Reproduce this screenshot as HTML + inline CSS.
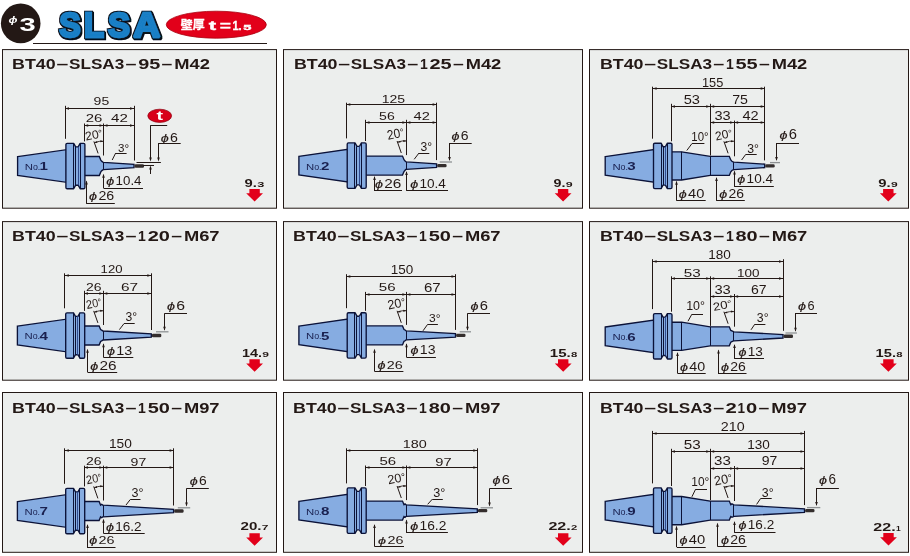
<!DOCTYPE html>
<html lang="ja"><head><meta charset="utf-8"><title>SLSA</title>
<style>html,body{margin:0;padding:0;background:#fff}body{width:910px;height:556px;overflow:hidden}svg{display:block;will-change:transform}</style>
</head><body>
<svg width="910" height="556" viewBox="0 0 910 556">
<rect width="910" height="556" fill="#fff"/>
<circle cx="20.7" cy="23.4" r="19.8" fill="#231815"/>
<text x="8.6" y="22.9" font-family='"Liberation Sans", sans-serif' font-size="9" font-weight="700" fill="#fff" font-style="italic" textLength="9" lengthAdjust="spacingAndGlyphs">ϕ</text>
<text x="19.6" y="31.3" font-family='"Liberation Sans", sans-serif' font-size="18.4" font-weight="700" fill="#fff" textLength="16.2" lengthAdjust="spacingAndGlyphs">3</text>
<defs><filter id="ol" x="-5%" y="-10%" width="110%" height="125%"><feMorphology in="SourceAlpha" operator="dilate" radius="0.8" result="d"/><feFlood flood-color="#10131f"/><feComposite in2="d" operator="in" result="o"/><feOffset in="o" dx="1.1" dy="1.1" result="sh"/><feMerge><feMergeNode in="sh"/><feMergeNode in="o"/><feMergeNode in="SourceGraphic"/></feMerge></filter></defs>
<text y="36.5" font-family='"Liberation Sans", sans-serif' font-weight="700" font-size="35.2" stroke-linejoin="miter" stroke-miterlimit="1.5" fill="#1a7fc6" stroke="#1a7fc6" stroke-width="2.4" filter="url(#ol)"><tspan x="59.3" textLength="21.4" lengthAdjust="spacingAndGlyphs">S</tspan><tspan x="84.1" textLength="20" lengthAdjust="spacingAndGlyphs">L</tspan><tspan x="108" textLength="22" lengthAdjust="spacingAndGlyphs">S</tspan><tspan x="133.2" textLength="27" lengthAdjust="spacingAndGlyphs">A</tspan></text>
<ellipse cx="216.3" cy="24.7" rx="50" ry="13.5" fill="#e2001a" stroke="#a8000f" stroke-width="0.8"/>
<text y="29.9" font-family='"Liberation Sans", "Noto Sans CJK JP", sans-serif' font-weight="700" font-size="13.2" fill="#fff" stroke="#fff" stroke-width="0.35"><tspan x="180.8" y="29.2" font-size="10.9" textLength="23.8" lengthAdjust="spacingAndGlyphs">壁厚</tspan><tspan x="208.8" y="29.9" textLength="7.4" lengthAdjust="spacingAndGlyphs">t</tspan><tspan x="219.8" textLength="11.2" lengthAdjust="spacingAndGlyphs">=</tspan><tspan x="232.4" textLength="9.2" lengthAdjust="spacingAndGlyphs">1.</tspan><tspan x="243.3" font-size="7.8" textLength="8.2" lengthAdjust="spacingAndGlyphs">5</tspan></text>
<line x1="33" y1="43.5" x2="267" y2="43.5" stroke="#231815" stroke-width="1.0"/>
<g id="p1">
<rect x="2.5" y="49.6" width="274" height="158.6" fill="#eceeed" stroke="#231815" stroke-width="1"/>
<text y="68.8" font-family='"Liberation Sans", sans-serif' font-size="14" font-weight="700" fill="#231815"><tspan x="12.1" textLength="43.6" lengthAdjust="spacingAndGlyphs">BT40</tspan><tspan x="56.4" textLength="11.8" lengthAdjust="spacingAndGlyphs">–</tspan><tspan x="69" textLength="55.3" lengthAdjust="spacingAndGlyphs">SLSA3</tspan><tspan x="125.4" textLength="11" lengthAdjust="spacingAndGlyphs">–</tspan><tspan x="138.2" textLength="22.1" lengthAdjust="spacingAndGlyphs">95</tspan><tspan x="161.6" textLength="10.8" lengthAdjust="spacingAndGlyphs">–</tspan><tspan x="174.3" textLength="35.6" lengthAdjust="spacingAndGlyphs">M42</tspan></text>
<polygon points="83,156.5 99.3,156.5 100.8,160.1 101.9,161.4 102.9,162.15 103.5,162.3 134,164.3 134,167.7 103.5,169.7 102.9,169.85 101.9,170.6 100.8,171.9 99.3,175.5 83,175.5" fill="#86ace1" stroke="#0b1238" stroke-width="1.35" stroke-linejoin="miter"/>
<line x1="103.5" y1="162.3" x2="103.5" y2="169.7" stroke="#0b1238" stroke-width="1.0"/>
<rect x="134.6" y="164.3" width="9.4" height="3.4" rx="1.3" fill="#332d2c"/>
<polygon points="17.6,156.7 66.5,149.7 66.5,182.3 17.6,175.3" fill="#86ace1" stroke="#0b1238" stroke-width="1.35" stroke-linejoin="miter"/>
<path d="M65.9,144.6 Q65.9,143.3 67.2,143.3 L73.69,143.3 L75.69,146.8 L78.16,146.8 L80.15,143.3 L83.6,143.3 Q84.9,143.3 84.9,144.6 L84.9,187.4 Q84.9,188.7 83.6,188.7 L80.15,188.7 L78.16,185.2 L75.69,185.2 L73.69,188.7 L67.2,188.7 Q65.9,188.7 65.9,187.4 Z" fill="#86ace1" stroke="#0b1238" stroke-width="1.35" stroke-linejoin="round"/>
<line x1="73.5" y1="143.3" x2="73.5" y2="188.7" stroke="#0b1238" stroke-width="1.0"/>
<line x1="75.5" y1="146.8" x2="75.5" y2="185.2" stroke="#0b1238" stroke-width="1.0"/>
<line x1="78.5" y1="146.8" x2="78.5" y2="185.2" stroke="#2f4a90" stroke-width="1.0"/>
<line x1="80.5" y1="143.3" x2="80.5" y2="188.7" stroke="#0b1238" stroke-width="1.0"/>
<text x="24.8" y="169.9" font-family='"Liberation Sans", sans-serif' fill="#1a2150" font-size="8.8" textLength="8.2" lengthAdjust="spacingAndGlyphs">N</text>
<text x="32.9" y="169.9" font-family='"Liberation Sans", sans-serif' fill="#1a2150" font-size="8.4" textLength="7.4" lengthAdjust="spacingAndGlyphs">o.</text>
<text x="39.6" y="170.2" font-family='"Liberation Sans", sans-serif' font-size="11.6" font-weight="700" fill="#1a2150" textLength="8.4" lengthAdjust="spacingAndGlyphs">1</text>
<line x1="65.5" y1="105.8" x2="65.5" y2="138.8" stroke="#231815" stroke-width="1.0"/>
<line x1="134.5" y1="105.8" x2="134.5" y2="160.5" stroke="#231815" stroke-width="1.0"/>
<line x1="65" y1="108.5" x2="134" y2="108.5" stroke="#231815" stroke-width="1.0"/>
<polygon points="65,108.5 69,107.2 69,109.8" fill="#231815"/>
<polygon points="134,108.5 130,107.2 130,109.8" fill="#231815"/>
<text x="93.6" y="104.75" font-family='"Liberation Sans", sans-serif' font-size="11.8" font-weight="400" fill="#231815" textLength="15.6" lengthAdjust="spacingAndGlyphs">95</text>
<line x1="84.5" y1="123.5" x2="84.5" y2="141.4" stroke="#231815" stroke-width="1.0"/>
<line x1="103.5" y1="123.5" x2="103.5" y2="155.5" stroke="#231815" stroke-width="1.0"/>
<line x1="84.2" y1="125.5" x2="134" y2="125.5" stroke="#231815" stroke-width="1.0"/>
<polygon points="84.2,125.5 88.2,124.2 88.2,126.8" fill="#231815"/>
<polygon points="103.5,125.5 99.5,124.2 99.5,126.8" fill="#231815"/>
<polygon points="103.5,125.5 107.5,124.2 107.5,126.8" fill="#231815"/>
<polygon points="134,125.5 130,124.2 130,126.8" fill="#231815"/>
<text x="85.8" y="122.45" font-family='"Liberation Sans", sans-serif' font-size="11.8" font-weight="400" fill="#231815" textLength="16.6" lengthAdjust="spacingAndGlyphs">26</text>
<text x="111" y="122.45" font-family='"Liberation Sans", sans-serif' font-size="11.8" font-weight="400" fill="#231815" textLength="16.8" lengthAdjust="spacingAndGlyphs">42</text>
<text transform="translate(86,140.5) rotate(-11)" font-family='"Liberation Sans", sans-serif' font-size="12.01" fill="#231815" textLength="17.5" lengthAdjust="spacingAndGlyphs">20<tspan font-size="9.61" dy="-1.2">°</tspan></text>
<line x1="98.1" y1="153.4" x2="93.9" y2="141.4" stroke="#231815" stroke-width="1.0"/>
<path d="M94.5,142.6 Q99.4,140.8 103.5,141.3" fill="none" stroke="#231815" stroke-width="0.85"/>
<polygon points="94.1,142.7 97.1,141.1 97.3,143" fill="#231815"/>
<polygon points="103.5,141.3 100.3,140.3 100.4,142.3" fill="#231815"/>
<text x="118.1" y="151.55" font-family='"Liberation Sans", sans-serif' font-size="11.8" font-weight="400" fill="#231815" textLength="11.1" lengthAdjust="spacingAndGlyphs">3°</text>
<line x1="115.7" y1="153.5" x2="126.6" y2="153.5" stroke="#231815" stroke-width="1.0"/>
<line x1="115.7" y1="153" x2="112.2" y2="160" stroke="#231815" stroke-width="1.0"/>
<text x="106.3" y="185.15" font-family='"Liberation Sans", sans-serif' font-size="12.36" fill="#231815"><tspan font-style="italic" font-size="10.63" textLength="8" lengthAdjust="spacingAndGlyphs" stroke="#231815" stroke-width="0.15">ϕ</tspan><tspan dx="1.3" textLength="25.9" lengthAdjust="spacingAndGlyphs">10.4</tspan></text>
<line x1="103.5" y1="188.5" x2="143" y2="188.5" stroke="#231815" stroke-width="1.0"/>
<line x1="103.5" y1="188" x2="103.5" y2="174.8" stroke="#231815" stroke-width="1.0"/>
<polygon points="103.5,173.8 102.2,177.8 104.8,177.8" fill="#231815"/>
<text x="89.1" y="199.65" font-family='"Liberation Sans", sans-serif' font-size="11.94" fill="#231815"><tspan font-style="italic" font-size="10.27" textLength="8" lengthAdjust="spacingAndGlyphs" stroke="#231815" stroke-width="0.15">ϕ</tspan><tspan dx="1.3" textLength="15.8" lengthAdjust="spacingAndGlyphs">26</tspan></text>
<line x1="86.2" y1="203.5" x2="114.8" y2="203.5" stroke="#231815" stroke-width="1.0"/>
<line x1="86.5" y1="203.5" x2="86.5" y2="181.5" stroke="#231815" stroke-width="1.0"/>
<polygon points="86.5,180.5 85.2,184.5 87.8,184.5" fill="#231815"/>
<ellipse cx="159.7" cy="115.8" rx="11.9" ry="6.6" fill="#d8001a" stroke="#8c0010" stroke-width="0.7"/>
<text x="156.6" y="120.2" font-family='"Liberation Sans", sans-serif' font-size="12.6" font-weight="700" fill="#fff" textLength="6.6" lengthAdjust="spacingAndGlyphs">t</text>
<line x1="150.4" y1="125.5" x2="167.2" y2="125.5" stroke="#231815" stroke-width="1.0"/>
<line x1="150.5" y1="125.3" x2="150.5" y2="159" stroke="#231815" stroke-width="1.0"/>
<polygon points="150.5,161.6 149.2,157.6 151.8,157.6" fill="#231815"/>
<text x="160.8" y="141.65" font-family='"Liberation Sans", sans-serif' font-size="13.34" fill="#231815"><tspan font-style="italic" font-size="11.47" textLength="8" lengthAdjust="spacingAndGlyphs" stroke="#231815" stroke-width="0.15">ϕ</tspan><tspan dx="1.3" textLength="7.9" lengthAdjust="spacingAndGlyphs">6</tspan></text>
<line x1="158.3" y1="143.5" x2="180.7" y2="143.5" stroke="#231815" stroke-width="1.0"/>
<line x1="158.5" y1="143.1" x2="158.5" y2="159" stroke="#231815" stroke-width="1.0"/>
<polygon points="158.5,161.6 157.2,157.6 159.8,157.6" fill="#231815"/>
<line x1="136.5" y1="162.5" x2="160.9" y2="162.5" stroke="#231815" stroke-width="1.0"/>
<line x1="143" y1="165.5" x2="154" y2="165.5" stroke="#231815" stroke-width="1.0"/>
<line x1="150.5" y1="174" x2="150.5" y2="168" stroke="#231815" stroke-width="1.0"/>
<polygon points="150.5,165.5 149.2,169.5 151.8,169.5" fill="#231815"/>
<text x="244.6" y="186.9" font-family='"Liberation Sans", sans-serif' font-size="11.8" font-weight="700" fill="#231815" textLength="12.3" lengthAdjust="spacingAndGlyphs">9.</text>
<text x="257.2" y="186.9" font-family='"Liberation Sans", sans-serif' font-size="7.6" font-weight="700" fill="#231815" textLength="7.1" lengthAdjust="spacingAndGlyphs">3</text>
<polygon points="249.4,189.1 259.8,189.1 259.8,193.2 263,193.2 254.6,201.6 246.2,193.2 249.4,193.2" fill="#e2001a"/>
</g>
<g id="p2">
<rect x="283.5" y="49.6" width="299" height="158.6" fill="#eceeed" stroke="#231815" stroke-width="1"/>
<text y="69" font-family='"Liberation Sans", sans-serif' font-size="14" font-weight="700" fill="#231815"><tspan x="293.9" textLength="43.6" lengthAdjust="spacingAndGlyphs">BT40</tspan><tspan x="338.2" textLength="11.8" lengthAdjust="spacingAndGlyphs">–</tspan><tspan x="350.8" textLength="55.3" lengthAdjust="spacingAndGlyphs">SLSA3</tspan><tspan x="407.2" textLength="11" lengthAdjust="spacingAndGlyphs">–</tspan><tspan x="419.9" textLength="7.8" lengthAdjust="spacingAndGlyphs">1</tspan><tspan x="429.5" textLength="22.2" lengthAdjust="spacingAndGlyphs">25</tspan><tspan x="453" textLength="10.8" lengthAdjust="spacingAndGlyphs">–</tspan><tspan x="465.7" textLength="35.6" lengthAdjust="spacingAndGlyphs">M42</tspan></text>
<polygon points="364.3,156.1 402.5,156.1 404,159.7 405.1,161 405.8,161.75 406.4,161.9 436.6,163.9 436.6,167.3 406.4,169.3 405.8,169.45 405.1,170.2 404,171.5 402.5,175.1 364.3,175.1" fill="#86ace1" stroke="#0b1238" stroke-width="1.35" stroke-linejoin="miter"/>
<line x1="406.5" y1="161.9" x2="406.5" y2="169.3" stroke="#0b1238" stroke-width="1.0"/>
<rect x="437.2" y="163.9" width="9.4" height="3.4" rx="1.3" fill="#332d2c"/>
<polygon points="298.9,156.3 347.8,149.3 347.8,181.9 298.9,174.9" fill="#86ace1" stroke="#0b1238" stroke-width="1.35" stroke-linejoin="miter"/>
<path d="M347.2,144.2 Q347.2,142.9 348.5,142.9 L354.99,142.9 L356.99,146.4 L359.46,146.4 L361.45,142.9 L364.9,142.9 Q366.2,142.9 366.2,144.2 L366.2,187 Q366.2,188.3 364.9,188.3 L361.45,188.3 L359.46,184.8 L356.99,184.8 L354.99,188.3 L348.5,188.3 Q347.2,188.3 347.2,187 Z" fill="#86ace1" stroke="#0b1238" stroke-width="1.35" stroke-linejoin="round"/>
<line x1="354.5" y1="142.9" x2="354.5" y2="188.3" stroke="#0b1238" stroke-width="1.0"/>
<line x1="356.5" y1="146.4" x2="356.5" y2="184.8" stroke="#0b1238" stroke-width="1.0"/>
<line x1="359.5" y1="146.4" x2="359.5" y2="184.8" stroke="#2f4a90" stroke-width="1.0"/>
<line x1="361.5" y1="142.9" x2="361.5" y2="188.3" stroke="#0b1238" stroke-width="1.0"/>
<text x="306.1" y="169.5" font-family='"Liberation Sans", sans-serif' fill="#1a2150" font-size="8.8" textLength="8.2" lengthAdjust="spacingAndGlyphs">N</text>
<text x="314.2" y="169.5" font-family='"Liberation Sans", sans-serif' fill="#1a2150" font-size="8.4" textLength="7.4" lengthAdjust="spacingAndGlyphs">o.</text>
<text x="320.9" y="169.8" font-family='"Liberation Sans", sans-serif' font-size="11.6" font-weight="700" fill="#1a2150" textLength="8.4" lengthAdjust="spacingAndGlyphs">2</text>
<line x1="346.5" y1="102.7" x2="346.5" y2="138.4" stroke="#231815" stroke-width="1.0"/>
<line x1="436.5" y1="102.7" x2="436.5" y2="160.1" stroke="#231815" stroke-width="1.0"/>
<line x1="346.3" y1="104.5" x2="436.6" y2="104.5" stroke="#231815" stroke-width="1.0"/>
<polygon points="346.3,104.5 350.3,103.2 350.3,105.8" fill="#231815"/>
<polygon points="436.6,104.5 432.6,103.2 432.6,105.8" fill="#231815"/>
<text x="381.7" y="102.55" font-family='"Liberation Sans", sans-serif' font-size="11.52" font-weight="400" fill="#231815" textLength="23.4" lengthAdjust="spacingAndGlyphs">125</text>
<line x1="365.5" y1="119.8" x2="365.5" y2="141" stroke="#231815" stroke-width="1.0"/>
<line x1="406.5" y1="119.8" x2="406.5" y2="155.1" stroke="#231815" stroke-width="1.0"/>
<line x1="365.5" y1="122.5" x2="436.6" y2="122.5" stroke="#231815" stroke-width="1.0"/>
<polygon points="365.5,122.5 369.5,121.2 369.5,123.8" fill="#231815"/>
<polygon points="406.4,122.5 402.4,121.2 402.4,123.8" fill="#231815"/>
<polygon points="406.4,122.5 410.4,121.2 410.4,123.8" fill="#231815"/>
<polygon points="436.6,122.5 432.6,121.2 432.6,123.8" fill="#231815"/>
<text x="379.1" y="119.55" font-family='"Liberation Sans", sans-serif' font-size="11.38" font-weight="400" fill="#231815" textLength="15.6" lengthAdjust="spacingAndGlyphs">56</text>
<text x="413.6" y="119.55" font-family='"Liberation Sans", sans-serif' font-size="11.38" font-weight="400" fill="#231815" textLength="16.3" lengthAdjust="spacingAndGlyphs">42</text>
<text transform="translate(388,139.7) rotate(-11)" font-family='"Liberation Sans", sans-serif' font-size="13.13" fill="#231815" textLength="17" lengthAdjust="spacingAndGlyphs">20<tspan font-size="10.5" dy="-1.2">°</tspan></text>
<line x1="401.3" y1="153" x2="397.1" y2="141" stroke="#231815" stroke-width="1.0"/>
<path d="M397.7,142.2 Q402.45,140.4 406.4,140.9" fill="none" stroke="#231815" stroke-width="0.85"/>
<polygon points="397.3,142.3 400.3,140.7 400.5,142.6" fill="#231815"/>
<polygon points="406.4,140.9 403.2,139.9 403.3,141.9" fill="#231815"/>
<text x="420.4" y="151.15" font-family='"Liberation Sans", sans-serif' font-size="12.92" font-weight="400" fill="#231815" textLength="11.6" lengthAdjust="spacingAndGlyphs">3°</text>
<line x1="419" y1="153.5" x2="429.3" y2="153.5" stroke="#231815" stroke-width="1.0"/>
<line x1="419" y1="153" x2="414.2" y2="159.3" stroke="#231815" stroke-width="1.0"/>
<text x="410.2" y="188.45" font-family='"Liberation Sans", sans-serif' font-size="13.06" fill="#231815"><tspan font-style="italic" font-size="11.23" textLength="8" lengthAdjust="spacingAndGlyphs" stroke="#231815" stroke-width="0.15">ϕ</tspan><tspan dx="1.3" textLength="26.4" lengthAdjust="spacingAndGlyphs">10.4</tspan></text>
<line x1="406.4" y1="190.5" x2="448" y2="190.5" stroke="#231815" stroke-width="1.0"/>
<line x1="406.5" y1="190.8" x2="406.5" y2="172" stroke="#231815" stroke-width="1.0"/>
<polygon points="406.5,171 405.2,175 407.8,175" fill="#231815"/>
<text x="375" y="188.45" font-family='"Liberation Sans", sans-serif' font-size="13.06" fill="#231815"><tspan font-style="italic" font-size="11.23" textLength="8" lengthAdjust="spacingAndGlyphs" stroke="#231815" stroke-width="0.15">ϕ</tspan><tspan dx="1.3" textLength="17.1" lengthAdjust="spacingAndGlyphs">26</tspan></text>
<line x1="374" y1="190.5" x2="402" y2="190.5" stroke="#231815" stroke-width="1.0"/>
<line x1="374.5" y1="190.8" x2="374.5" y2="176.9" stroke="#231815" stroke-width="1.0"/>
<polygon points="374.5,175.9 373.2,179.9 375.8,179.9" fill="#231815"/>
<text x="451.5" y="139.85" font-family='"Liberation Sans", sans-serif' font-size="13.06" fill="#231815"><tspan font-style="italic" font-size="11.23" textLength="8" lengthAdjust="spacingAndGlyphs" stroke="#231815" stroke-width="0.15">ϕ</tspan><tspan dx="1.3" textLength="7.8" lengthAdjust="spacingAndGlyphs">6</tspan></text>
<line x1="449" y1="143.5" x2="471.7" y2="143.5" stroke="#231815" stroke-width="1.0"/>
<line x1="449.5" y1="143.4" x2="449.5" y2="160" stroke="#231815" stroke-width="1.0"/>
<polygon points="449.5,161 448.2,157 450.8,157" fill="#231815"/>
<line x1="439.7" y1="162" x2="452" y2="162" stroke="#8e9193" stroke-width="1.3"/>
<text x="553.5" y="186.8" font-family='"Liberation Sans", sans-serif' font-size="11.8" font-weight="700" fill="#231815" textLength="11.9" lengthAdjust="spacingAndGlyphs">9.</text>
<text x="565.7" y="186.8" font-family='"Liberation Sans", sans-serif' font-size="7.6" font-weight="700" fill="#231815" textLength="6.9" lengthAdjust="spacingAndGlyphs">9</text>
<polygon points="557.9,189.1 568.3,189.1 568.3,193.2 571.5,193.2 563.1,201.6 554.7,193.2 557.9,193.2" fill="#e2001a"/>
</g>
<g id="p3">
<rect x="589.5" y="49.6" width="319" height="158.6" fill="#eceeed" stroke="#231815" stroke-width="1"/>
<text y="69" font-family='"Liberation Sans", sans-serif' font-size="14" font-weight="700" fill="#231815"><tspan x="599.9" textLength="43.6" lengthAdjust="spacingAndGlyphs">BT40</tspan><tspan x="644.2" textLength="11.8" lengthAdjust="spacingAndGlyphs">–</tspan><tspan x="656.8" textLength="55.3" lengthAdjust="spacingAndGlyphs">SLSA3</tspan><tspan x="713.2" textLength="11" lengthAdjust="spacingAndGlyphs">–</tspan><tspan x="725.9" textLength="7.8" lengthAdjust="spacingAndGlyphs">1</tspan><tspan x="735.5" textLength="22.2" lengthAdjust="spacingAndGlyphs">55</tspan><tspan x="759" textLength="10.8" lengthAdjust="spacingAndGlyphs">–</tspan><tspan x="771.7" textLength="35.6" lengthAdjust="spacingAndGlyphs">M42</tspan></text>
<polygon points="669.8,151.8 681.6,151.8 710.2,156.4 729.3,156.4 730.8,160 731.9,161.3 733.5,162.05 734.1,162.2 764.7,164.2 764.7,167.6 734.1,169.6 733.5,169.75 731.9,170.5 730.8,171.8 729.3,175.4 710.2,175.4 681.6,180 669.8,180" fill="#86ace1" stroke="#0b1238" stroke-width="1.35" stroke-linejoin="miter"/>
<line x1="681.5" y1="151.8" x2="681.5" y2="180" stroke="#0b1238" stroke-width="1.0"/>
<line x1="710.5" y1="156.4" x2="710.5" y2="175.4" stroke="#0b1238" stroke-width="1.0"/>
<line x1="733.5" y1="162.2" x2="733.5" y2="169.6" stroke="#0b1238" stroke-width="1.0"/>
<rect x="765.3" y="164.2" width="9.4" height="3.4" rx="1.3" fill="#332d2c"/>
<polygon points="605.2,156.6 654.1,149.6 654.1,182.2 605.2,175.2" fill="#86ace1" stroke="#0b1238" stroke-width="1.35" stroke-linejoin="miter"/>
<path d="M653.5,144.5 Q653.5,143.2 654.8,143.2 L661.09,143.2 L663.03,146.7 L665.43,146.7 L667.38,143.2 L670.7,143.2 Q672,143.2 672,144.5 L672,187.3 Q672,188.6 670.7,188.6 L667.38,188.6 L665.43,185.1 L663.03,185.1 L661.09,188.6 L654.8,188.6 Q653.5,188.6 653.5,187.3 Z" fill="#86ace1" stroke="#0b1238" stroke-width="1.35" stroke-linejoin="round"/>
<line x1="661.5" y1="143.2" x2="661.5" y2="188.6" stroke="#0b1238" stroke-width="1.0"/>
<line x1="663.5" y1="146.7" x2="663.5" y2="185.1" stroke="#0b1238" stroke-width="1.0"/>
<line x1="665.5" y1="146.7" x2="665.5" y2="185.1" stroke="#2f4a90" stroke-width="1.0"/>
<line x1="667.5" y1="143.2" x2="667.5" y2="188.6" stroke="#0b1238" stroke-width="1.0"/>
<text x="612.4" y="169.8" font-family='"Liberation Sans", sans-serif' fill="#1a2150" font-size="8.8" textLength="8.2" lengthAdjust="spacingAndGlyphs">N</text>
<text x="620.5" y="169.8" font-family='"Liberation Sans", sans-serif' fill="#1a2150" font-size="8.4" textLength="7.4" lengthAdjust="spacingAndGlyphs">o.</text>
<text x="627.2" y="170.1" font-family='"Liberation Sans", sans-serif' font-size="11.6" font-weight="700" fill="#1a2150" textLength="8.4" lengthAdjust="spacingAndGlyphs">3</text>
<line x1="652.5" y1="86.7" x2="652.5" y2="138.7" stroke="#231815" stroke-width="1.0"/>
<line x1="764.5" y1="86.7" x2="764.5" y2="160.4" stroke="#231815" stroke-width="1.0"/>
<line x1="652.6" y1="88.5" x2="764.7" y2="88.5" stroke="#231815" stroke-width="1.0"/>
<polygon points="652.6,88.5 656.6,87.2 656.6,89.8" fill="#231815"/>
<polygon points="764.7,88.5 760.7,87.2 760.7,89.8" fill="#231815"/>
<text x="702" y="86.55" font-family='"Liberation Sans", sans-serif' font-size="12.08" font-weight="400" fill="#231815" textLength="21.3" lengthAdjust="spacingAndGlyphs">155</text>
<line x1="671.5" y1="103.8" x2="671.5" y2="141.3" stroke="#231815" stroke-width="1.0"/>
<line x1="710.5" y1="103.8" x2="710.5" y2="155.5" stroke="#231815" stroke-width="1.0"/>
<line x1="671" y1="106.5" x2="764.7" y2="106.5" stroke="#231815" stroke-width="1.0"/>
<polygon points="671,106.5 675,105.2 675,107.8" fill="#231815"/>
<polygon points="710.2,106.5 706.2,105.2 706.2,107.8" fill="#231815"/>
<polygon points="710.2,106.5 714.2,105.2 714.2,107.8" fill="#231815"/>
<polygon points="764.7,106.5 760.7,105.2 760.7,107.8" fill="#231815"/>
<line x1="734.5" y1="120.6" x2="734.5" y2="156.3" stroke="#231815" stroke-width="1.0"/>
<line x1="710.2" y1="122.5" x2="764.7" y2="122.5" stroke="#231815" stroke-width="1.0"/>
<polygon points="710.2,122.5 714.2,121.2 714.2,123.8" fill="#231815"/>
<polygon points="734.1,122.5 730.1,121.2 730.1,123.8" fill="#231815"/>
<polygon points="734.1,122.5 738.1,121.2 738.1,123.8" fill="#231815"/>
<polygon points="764.7,122.5 760.7,121.2 760.7,123.8" fill="#231815"/>
<text x="714.4" y="120.45" font-family='"Liberation Sans", sans-serif' font-size="11.94" font-weight="400" fill="#231815" textLength="16.2" lengthAdjust="spacingAndGlyphs">33</text>
<text x="742.4" y="120.45" font-family='"Liberation Sans", sans-serif' font-size="11.94" font-weight="400" fill="#231815" textLength="16.2" lengthAdjust="spacingAndGlyphs">42</text>
<text x="683.7" y="104.15" font-family='"Liberation Sans", sans-serif' font-size="12.08" font-weight="400" fill="#231815" textLength="16.3" lengthAdjust="spacingAndGlyphs">53</text>
<text x="732.2" y="104.15" font-family='"Liberation Sans", sans-serif' font-size="12.08" font-weight="400" fill="#231815" textLength="15.8" lengthAdjust="spacingAndGlyphs">75</text>
<text transform="translate(716,140.4) rotate(-11)" font-family='"Liberation Sans", sans-serif' font-size="12.15" fill="#231815" textLength="17.3" lengthAdjust="spacingAndGlyphs">20<tspan font-size="9.72" dy="-1.2">°</tspan></text>
<line x1="728.1" y1="153.3" x2="723.9" y2="141.3" stroke="#231815" stroke-width="1.0"/>
<path d="M724.5,142.5 Q729.7,140.7 734.1,141.2" fill="none" stroke="#231815" stroke-width="0.85"/>
<polygon points="724.1,142.6 727.1,141 727.3,142.9" fill="#231815"/>
<polygon points="734.1,141.2 730.9,140.2 731,142.2" fill="#231815"/>
<text x="747.3" y="152.65" font-family='"Liberation Sans", sans-serif' font-size="13.06" font-weight="400" fill="#231815" textLength="11.7" lengthAdjust="spacingAndGlyphs">3°</text>
<line x1="745.8" y1="154.5" x2="756.7" y2="154.5" stroke="#231815" stroke-width="1.0"/>
<line x1="745.8" y1="154.3" x2="741.6" y2="160" stroke="#231815" stroke-width="1.0"/>
<text x="691.3" y="140.55" font-family='"Liberation Sans", sans-serif' font-size="13.2" font-weight="400" fill="#231815" textLength="17.3" lengthAdjust="spacingAndGlyphs">10°</text>
<line x1="692" y1="143.5" x2="704.4" y2="143.5" stroke="#231815" stroke-width="1.0"/>
<line x1="692" y1="143.5" x2="686.8" y2="150.5" stroke="#231815" stroke-width="1.0"/>
<text x="737.3" y="183.35" font-family='"Liberation Sans", sans-serif' font-size="12.64" fill="#231815"><tspan font-style="italic" font-size="10.87" textLength="8" lengthAdjust="spacingAndGlyphs" stroke="#231815" stroke-width="0.15">ϕ</tspan><tspan dx="1.3" textLength="26.4" lengthAdjust="spacingAndGlyphs">10.4</tspan></text>
<line x1="734.1" y1="186.5" x2="773.8" y2="186.5" stroke="#231815" stroke-width="1.0"/>
<line x1="734.5" y1="186.5" x2="734.5" y2="171.6" stroke="#231815" stroke-width="1.0"/>
<polygon points="734.5,170.6 733.2,174.6 735.8,174.6" fill="#231815"/>
<text x="719.2" y="197.95" font-family='"Liberation Sans", sans-serif' font-size="13.06" fill="#231815"><tspan font-style="italic" font-size="11.23" textLength="8" lengthAdjust="spacingAndGlyphs" stroke="#231815" stroke-width="0.15">ϕ</tspan><tspan dx="1.3" textLength="15.5" lengthAdjust="spacingAndGlyphs">26</tspan></text>
<line x1="716.4" y1="200.5" x2="744.8" y2="200.5" stroke="#231815" stroke-width="1.0"/>
<line x1="716.5" y1="200.8" x2="716.5" y2="178" stroke="#231815" stroke-width="1.0"/>
<polygon points="716.5,177 715.2,181 717.8,181" fill="#231815"/>
<text x="678.8" y="197.95" font-family='"Liberation Sans", sans-serif' font-size="13.06" fill="#231815"><tspan font-style="italic" font-size="11.23" textLength="8" lengthAdjust="spacingAndGlyphs" stroke="#231815" stroke-width="0.15">ϕ</tspan><tspan dx="1.3" textLength="16.3" lengthAdjust="spacingAndGlyphs">40</tspan></text>
<line x1="676.8" y1="200.5" x2="705.7" y2="200.5" stroke="#231815" stroke-width="1.0"/>
<line x1="676.5" y1="200.8" x2="676.5" y2="181.7" stroke="#231815" stroke-width="1.0"/>
<polygon points="676.5,180.7 675.2,184.7 677.8,184.7" fill="#231815"/>
<text x="779.5" y="139.35" font-family='"Liberation Sans", sans-serif' font-size="13.76" fill="#231815"><tspan font-style="italic" font-size="11.83" textLength="8" lengthAdjust="spacingAndGlyphs" stroke="#231815" stroke-width="0.15">ϕ</tspan><tspan dx="1.3" textLength="8.2" lengthAdjust="spacingAndGlyphs">6</tspan></text>
<line x1="776.3" y1="143.5" x2="799" y2="143.5" stroke="#231815" stroke-width="1.0"/>
<line x1="776.5" y1="143" x2="776.5" y2="160" stroke="#231815" stroke-width="1.0"/>
<polygon points="776.5,161 775.2,157 777.8,157" fill="#231815"/>
<line x1="770" y1="162.6" x2="780" y2="162.6" stroke="#8e9193" stroke-width="1.3"/>
<text x="878.3" y="186.9" font-family='"Liberation Sans", sans-serif' font-size="11.8" font-weight="700" fill="#231815" textLength="12.4" lengthAdjust="spacingAndGlyphs">9.</text>
<text x="891" y="186.9" font-family='"Liberation Sans", sans-serif' font-size="7.6" font-weight="700" fill="#231815" textLength="6.7" lengthAdjust="spacingAndGlyphs">9</text>
<polygon points="883.1,189.1 893.5,189.1 893.5,193.2 896.7,193.2 888.3,201.6 879.9,193.2 883.1,193.2" fill="#e2001a"/>
</g>
<g id="p4">
<rect x="2.5" y="221.6" width="274" height="158.6" fill="#eceeed" stroke="#231815" stroke-width="1"/>
<text y="241" font-family='"Liberation Sans", sans-serif' font-size="14" font-weight="700" fill="#231815"><tspan x="12.1" textLength="43.6" lengthAdjust="spacingAndGlyphs">BT40</tspan><tspan x="56.4" textLength="11.8" lengthAdjust="spacingAndGlyphs">–</tspan><tspan x="69" textLength="55.3" lengthAdjust="spacingAndGlyphs">SLSA3</tspan><tspan x="125.4" textLength="11" lengthAdjust="spacingAndGlyphs">–</tspan><tspan x="138.1" textLength="7.8" lengthAdjust="spacingAndGlyphs">1</tspan><tspan x="147.7" textLength="22.2" lengthAdjust="spacingAndGlyphs">20</tspan><tspan x="171.2" textLength="10.8" lengthAdjust="spacingAndGlyphs">–</tspan><tspan x="183.9" textLength="35.6" lengthAdjust="spacingAndGlyphs">M67</tspan></text>
<polygon points="82.8,326 99.1,326 100.6,329.6 101.7,330.1 102.7,330.85 103.3,331 151.3,333.8 151.3,337.2 103.3,340 102.7,340.15 101.7,340.9 100.6,341.4 99.1,345 82.8,345" fill="#86ace1" stroke="#0b1238" stroke-width="1.35" stroke-linejoin="miter"/>
<line x1="103.5" y1="331" x2="103.5" y2="340" stroke="#0b1238" stroke-width="1.0"/>
<rect x="151.9" y="333.8" width="9.4" height="3.4" rx="1.3" fill="#332d2c"/>
<polygon points="17.4,326.2 66.3,319.2 66.3,351.8 17.4,344.8" fill="#86ace1" stroke="#0b1238" stroke-width="1.35" stroke-linejoin="miter"/>
<path d="M65.7,314.1 Q65.7,312.8 67,312.8 L73.49,312.8 L75.48,316.3 L77.95,316.3 L79.95,312.8 L83.4,312.8 Q84.7,312.8 84.7,314.1 L84.7,356.9 Q84.7,358.2 83.4,358.2 L79.95,358.2 L77.95,354.7 L75.48,354.7 L73.49,358.2 L67,358.2 Q65.7,358.2 65.7,356.9 Z" fill="#86ace1" stroke="#0b1238" stroke-width="1.35" stroke-linejoin="round"/>
<line x1="73.5" y1="312.8" x2="73.5" y2="358.2" stroke="#0b1238" stroke-width="1.0"/>
<line x1="75.5" y1="316.3" x2="75.5" y2="354.7" stroke="#0b1238" stroke-width="1.0"/>
<line x1="77.5" y1="316.3" x2="77.5" y2="354.7" stroke="#2f4a90" stroke-width="1.0"/>
<line x1="79.5" y1="312.8" x2="79.5" y2="358.2" stroke="#0b1238" stroke-width="1.0"/>
<text x="24.6" y="339.4" font-family='"Liberation Sans", sans-serif' fill="#1a2150" font-size="8.8" textLength="8.2" lengthAdjust="spacingAndGlyphs">N</text>
<text x="32.7" y="339.4" font-family='"Liberation Sans", sans-serif' fill="#1a2150" font-size="8.4" textLength="7.4" lengthAdjust="spacingAndGlyphs">o.</text>
<text x="39.4" y="339.7" font-family='"Liberation Sans", sans-serif' font-size="11.6" font-weight="700" fill="#1a2150" textLength="8.4" lengthAdjust="spacingAndGlyphs">4</text>
<line x1="64.5" y1="273.3" x2="64.5" y2="308.3" stroke="#231815" stroke-width="1.0"/>
<line x1="151.5" y1="273.3" x2="151.5" y2="330" stroke="#231815" stroke-width="1.0"/>
<line x1="64.8" y1="275.5" x2="151.3" y2="275.5" stroke="#231815" stroke-width="1.0"/>
<polygon points="64.8,275.5 68.8,274.2 68.8,276.8" fill="#231815"/>
<polygon points="151.3,275.5 147.3,274.2 147.3,276.8" fill="#231815"/>
<text x="100.6" y="273.45" font-family='"Liberation Sans", sans-serif' font-size="11.66" font-weight="400" fill="#231815" textLength="21.9" lengthAdjust="spacingAndGlyphs">120</text>
<line x1="84.5" y1="290.8" x2="84.5" y2="310.9" stroke="#231815" stroke-width="1.0"/>
<line x1="103.5" y1="290.8" x2="103.5" y2="325" stroke="#231815" stroke-width="1.0"/>
<line x1="84" y1="293.5" x2="151.3" y2="293.5" stroke="#231815" stroke-width="1.0"/>
<polygon points="84,293.5 88,292.2 88,294.8" fill="#231815"/>
<polygon points="103.3,293.5 99.3,292.2 99.3,294.8" fill="#231815"/>
<polygon points="103.3,293.5 107.3,292.2 107.3,294.8" fill="#231815"/>
<polygon points="151.3,293.5 147.3,292.2 147.3,294.8" fill="#231815"/>
<text x="86" y="290.55" font-family='"Liberation Sans", sans-serif' font-size="11.52" font-weight="400" fill="#231815" textLength="15.6" lengthAdjust="spacingAndGlyphs">26</text>
<text x="120.9" y="290.95" font-family='"Liberation Sans", sans-serif' font-size="11.8" font-weight="400" fill="#231815" textLength="17.1" lengthAdjust="spacingAndGlyphs">67</text>
<text transform="translate(87,308.9) rotate(-11)" font-family='"Liberation Sans", sans-serif' font-size="12.01" fill="#231815" textLength="15.5" lengthAdjust="spacingAndGlyphs">20<tspan font-size="9.61" dy="-1.2">°</tspan></text>
<line x1="97.9" y1="322.9" x2="93.7" y2="310.9" stroke="#231815" stroke-width="1.0"/>
<path d="M94.3,312.1 Q99.2,310.3 103.3,310.8" fill="none" stroke="#231815" stroke-width="0.85"/>
<polygon points="93.9,312.2 96.9,310.6 97.1,312.5" fill="#231815"/>
<polygon points="103.3,310.8 100.1,309.8 100.2,311.8" fill="#231815"/>
<text x="125.4" y="321.45" font-family='"Liberation Sans", sans-serif' font-size="12.22" font-weight="400" fill="#231815" textLength="11.6" lengthAdjust="spacingAndGlyphs">3°</text>
<line x1="124" y1="323.5" x2="134.7" y2="323.5" stroke="#231815" stroke-width="1.0"/>
<line x1="124" y1="323.6" x2="119.4" y2="329.6" stroke="#231815" stroke-width="1.0"/>
<text x="106.9" y="354.55" font-family='"Liberation Sans", sans-serif' font-size="12.22" fill="#231815"><tspan font-style="italic" font-size="10.51" textLength="8" lengthAdjust="spacingAndGlyphs" stroke="#231815" stroke-width="0.15">ϕ</tspan><tspan dx="1.3" textLength="16" lengthAdjust="spacingAndGlyphs">13</tspan></text>
<line x1="103.3" y1="357.5" x2="133.3" y2="357.5" stroke="#231815" stroke-width="1.0"/>
<line x1="103.5" y1="357" x2="103.5" y2="344.2" stroke="#231815" stroke-width="1.0"/>
<polygon points="103.5,343.2 102.2,347.2 104.8,347.2" fill="#231815"/>
<text x="90.2" y="369.65" font-family='"Liberation Sans", sans-serif' font-size="12.22" fill="#231815"><tspan font-style="italic" font-size="10.51" textLength="8" lengthAdjust="spacingAndGlyphs" stroke="#231815" stroke-width="0.15">ϕ</tspan><tspan dx="1.3" textLength="17.1" lengthAdjust="spacingAndGlyphs">26</tspan></text>
<line x1="87.6" y1="372.5" x2="117.2" y2="372.5" stroke="#231815" stroke-width="1.0"/>
<line x1="87.5" y1="372.2" x2="87.5" y2="349.8" stroke="#231815" stroke-width="1.0"/>
<polygon points="87.5,348.8 86.2,352.8 88.8,352.8" fill="#231815"/>
<text x="166.9" y="310.15" font-family='"Liberation Sans", sans-serif' font-size="12.36" fill="#231815"><tspan font-style="italic" font-size="10.63" textLength="8" lengthAdjust="spacingAndGlyphs" stroke="#231815" stroke-width="0.15">ϕ</tspan><tspan dx="1.3" textLength="8.8" lengthAdjust="spacingAndGlyphs">6</tspan></text>
<line x1="164.3" y1="313.5" x2="187" y2="313.5" stroke="#231815" stroke-width="1.0"/>
<line x1="164.5" y1="313.6" x2="164.5" y2="329.8" stroke="#231815" stroke-width="1.0"/>
<polygon points="164.5,330.8 163.2,326.8 165.8,326.8" fill="#231815"/>
<line x1="156" y1="331.8" x2="168.5" y2="331.8" stroke="#8e9193" stroke-width="1.3"/>
<text x="241.9" y="356.6" font-family='"Liberation Sans", sans-serif' font-size="11.8" font-weight="700" fill="#231815" textLength="20" lengthAdjust="spacingAndGlyphs">14.</text>
<text x="262.2" y="356.6" font-family='"Liberation Sans", sans-serif' font-size="7.6" font-weight="700" fill="#231815" textLength="6.7" lengthAdjust="spacingAndGlyphs">9</text>
<polygon points="249.4,359.3 259.8,359.3 259.8,363.4 263,363.4 254.6,371.8 246.2,363.4 249.4,363.4" fill="#e2001a"/>
</g>
<g id="p5">
<rect x="283.5" y="221.6" width="299" height="158.6" fill="#eceeed" stroke="#231815" stroke-width="1"/>
<text y="241" font-family='"Liberation Sans", sans-serif' font-size="14" font-weight="700" fill="#231815"><tspan x="293.1" textLength="43.6" lengthAdjust="spacingAndGlyphs">BT40</tspan><tspan x="337.4" textLength="11.8" lengthAdjust="spacingAndGlyphs">–</tspan><tspan x="350" textLength="55.3" lengthAdjust="spacingAndGlyphs">SLSA3</tspan><tspan x="406.4" textLength="11" lengthAdjust="spacingAndGlyphs">–</tspan><tspan x="419.1" textLength="7.8" lengthAdjust="spacingAndGlyphs">1</tspan><tspan x="428.7" textLength="22.2" lengthAdjust="spacingAndGlyphs">50</tspan><tspan x="452.2" textLength="10.8" lengthAdjust="spacingAndGlyphs">–</tspan><tspan x="464.9" textLength="35.6" lengthAdjust="spacingAndGlyphs">M67</tspan></text>
<polygon points="364.3,325.9 402.5,325.9 404,329.5 405.1,330 405.8,330.75 406.4,330.9 455.5,333.7 455.5,337.1 406.4,339.9 405.8,340.05 405.1,340.8 404,341.3 402.5,344.9 364.3,344.9" fill="#86ace1" stroke="#0b1238" stroke-width="1.35" stroke-linejoin="miter"/>
<line x1="406.5" y1="330.9" x2="406.5" y2="339.9" stroke="#0b1238" stroke-width="1.0"/>
<rect x="456.1" y="333.7" width="9.4" height="3.4" rx="1.3" fill="#332d2c"/>
<polygon points="298.9,326.1 347.8,319.1 347.8,351.7 298.9,344.7" fill="#86ace1" stroke="#0b1238" stroke-width="1.35" stroke-linejoin="miter"/>
<path d="M347.2,314 Q347.2,312.7 348.5,312.7 L354.99,312.7 L356.99,316.2 L359.46,316.2 L361.45,312.7 L364.9,312.7 Q366.2,312.7 366.2,314 L366.2,356.8 Q366.2,358.1 364.9,358.1 L361.45,358.1 L359.46,354.6 L356.99,354.6 L354.99,358.1 L348.5,358.1 Q347.2,358.1 347.2,356.8 Z" fill="#86ace1" stroke="#0b1238" stroke-width="1.35" stroke-linejoin="round"/>
<line x1="354.5" y1="312.7" x2="354.5" y2="358.1" stroke="#0b1238" stroke-width="1.0"/>
<line x1="356.5" y1="316.2" x2="356.5" y2="354.6" stroke="#0b1238" stroke-width="1.0"/>
<line x1="359.5" y1="316.2" x2="359.5" y2="354.6" stroke="#2f4a90" stroke-width="1.0"/>
<line x1="361.5" y1="312.7" x2="361.5" y2="358.1" stroke="#0b1238" stroke-width="1.0"/>
<text x="306.1" y="339.3" font-family='"Liberation Sans", sans-serif' fill="#1a2150" font-size="8.8" textLength="8.2" lengthAdjust="spacingAndGlyphs">N</text>
<text x="314.2" y="339.3" font-family='"Liberation Sans", sans-serif' fill="#1a2150" font-size="8.4" textLength="7.4" lengthAdjust="spacingAndGlyphs">o.</text>
<text x="320.9" y="339.6" font-family='"Liberation Sans", sans-serif' font-size="11.6" font-weight="700" fill="#1a2150" textLength="8.4" lengthAdjust="spacingAndGlyphs">5</text>
<line x1="346.5" y1="274.2" x2="346.5" y2="308.2" stroke="#231815" stroke-width="1.0"/>
<line x1="455.5" y1="274.2" x2="455.5" y2="329.9" stroke="#231815" stroke-width="1.0"/>
<line x1="346.3" y1="276.5" x2="455.5" y2="276.5" stroke="#231815" stroke-width="1.0"/>
<polygon points="346.3,276.5 350.3,275.2 350.3,277.8" fill="#231815"/>
<polygon points="455.5,276.5 451.5,275.2 451.5,277.8" fill="#231815"/>
<text x="390.8" y="273.85" font-family='"Liberation Sans", sans-serif' font-size="12.22" font-weight="400" fill="#231815" textLength="22.5" lengthAdjust="spacingAndGlyphs">150</text>
<line x1="365.5" y1="291.9" x2="365.5" y2="310.8" stroke="#231815" stroke-width="1.0"/>
<line x1="406.5" y1="291.9" x2="406.5" y2="324.9" stroke="#231815" stroke-width="1.0"/>
<line x1="365.5" y1="294.5" x2="455.5" y2="294.5" stroke="#231815" stroke-width="1.0"/>
<polygon points="365.5,294.5 369.5,293.2 369.5,295.8" fill="#231815"/>
<polygon points="406.4,294.5 402.4,293.2 402.4,295.8" fill="#231815"/>
<polygon points="406.4,294.5 410.4,293.2 410.4,295.8" fill="#231815"/>
<polygon points="455.5,294.5 451.5,293.2 451.5,295.8" fill="#231815"/>
<text x="378.8" y="291.05" font-family='"Liberation Sans", sans-serif' font-size="11.66" font-weight="400" fill="#231815" textLength="16.8" lengthAdjust="spacingAndGlyphs">56</text>
<text x="423.9" y="291.65" font-family='"Liberation Sans", sans-serif' font-size="11.94" font-weight="400" fill="#231815" textLength="16.7" lengthAdjust="spacingAndGlyphs">67</text>
<text transform="translate(388.5,309.5) rotate(-11)" font-family='"Liberation Sans", sans-serif' font-size="12.85" fill="#231815" textLength="17.9" lengthAdjust="spacingAndGlyphs">20<tspan font-size="10.28" dy="-1.2">°</tspan></text>
<line x1="401.3" y1="322.8" x2="397.1" y2="310.8" stroke="#231815" stroke-width="1.0"/>
<path d="M397.7,312 Q402.45,310.2 406.4,310.7" fill="none" stroke="#231815" stroke-width="0.85"/>
<polygon points="397.3,312.1 400.3,310.5 400.5,312.4" fill="#231815"/>
<polygon points="406.4,310.7 403.2,309.7 403.3,311.7" fill="#231815"/>
<text x="429.1" y="322.05" font-family='"Liberation Sans", sans-serif' font-size="11.52" font-weight="400" fill="#231815" textLength="11.5" lengthAdjust="spacingAndGlyphs">3°</text>
<line x1="427.6" y1="324.5" x2="437.9" y2="324.5" stroke="#231815" stroke-width="1.0"/>
<line x1="427.6" y1="324.4" x2="423" y2="330.8" stroke="#231815" stroke-width="1.0"/>
<text x="410.5" y="354.15" font-family='"Liberation Sans", sans-serif' font-size="12.64" fill="#231815"><tspan font-style="italic" font-size="10.87" textLength="8" lengthAdjust="spacingAndGlyphs" stroke="#231815" stroke-width="0.15">ϕ</tspan><tspan dx="1.3" textLength="15.7" lengthAdjust="spacingAndGlyphs">13</tspan></text>
<line x1="406.4" y1="357.5" x2="435.9" y2="357.5" stroke="#231815" stroke-width="1.0"/>
<line x1="406.5" y1="357" x2="406.5" y2="344.2" stroke="#231815" stroke-width="1.0"/>
<polygon points="406.5,343.2 405.2,347.2 407.8,347.2" fill="#231815"/>
<text x="377.5" y="368.65" font-family='"Liberation Sans", sans-serif' font-size="11.66" fill="#231815"><tspan font-style="italic" font-size="10.03" textLength="8" lengthAdjust="spacingAndGlyphs" stroke="#231815" stroke-width="0.15">ϕ</tspan><tspan dx="1.3" textLength="16" lengthAdjust="spacingAndGlyphs">26</tspan></text>
<line x1="374.8" y1="371.5" x2="403.4" y2="371.5" stroke="#231815" stroke-width="1.0"/>
<line x1="374.5" y1="371.6" x2="374.5" y2="349.8" stroke="#231815" stroke-width="1.0"/>
<polygon points="374.5,348.8 373.2,352.8 375.8,352.8" fill="#231815"/>
<text x="470.5" y="310.15" font-family='"Liberation Sans", sans-serif' font-size="12.36" fill="#231815"><tspan font-style="italic" font-size="10.63" textLength="8" lengthAdjust="spacingAndGlyphs" stroke="#231815" stroke-width="0.15">ϕ</tspan><tspan dx="1.3" textLength="8.2" lengthAdjust="spacingAndGlyphs">6</tspan></text>
<line x1="467.3" y1="313.5" x2="490" y2="313.5" stroke="#231815" stroke-width="1.0"/>
<line x1="467.5" y1="313.6" x2="467.5" y2="329.8" stroke="#231815" stroke-width="1.0"/>
<polygon points="467.5,330.8 466.2,326.8 468.8,326.8" fill="#231815"/>
<line x1="459.7" y1="331.8" x2="471" y2="331.8" stroke="#8e9193" stroke-width="1.3"/>
<text x="549.8" y="356.6" font-family='"Liberation Sans", sans-serif' font-size="11.8" font-weight="700" fill="#231815" textLength="21" lengthAdjust="spacingAndGlyphs">15.</text>
<text x="571.1" y="356.6" font-family='"Liberation Sans", sans-serif' font-size="7.6" font-weight="700" fill="#231815" textLength="6.3" lengthAdjust="spacingAndGlyphs">8</text>
<polygon points="558,359.3 568.4,359.3 568.4,363.4 571.6,363.4 563.2,371.8 554.8,363.4 558,363.4" fill="#e2001a"/>
</g>
<g id="p6">
<rect x="589.5" y="221.6" width="319" height="158.6" fill="#eceeed" stroke="#231815" stroke-width="1"/>
<text y="241" font-family='"Liberation Sans", sans-serif' font-size="14" font-weight="700" fill="#231815"><tspan x="599.9" textLength="43.6" lengthAdjust="spacingAndGlyphs">BT40</tspan><tspan x="644.2" textLength="11.8" lengthAdjust="spacingAndGlyphs">–</tspan><tspan x="656.8" textLength="55.3" lengthAdjust="spacingAndGlyphs">SLSA3</tspan><tspan x="713.2" textLength="11" lengthAdjust="spacingAndGlyphs">–</tspan><tspan x="725.9" textLength="7.8" lengthAdjust="spacingAndGlyphs">1</tspan><tspan x="735.5" textLength="22.2" lengthAdjust="spacingAndGlyphs">80</tspan><tspan x="759" textLength="10.8" lengthAdjust="spacingAndGlyphs">–</tspan><tspan x="771.7" textLength="35.6" lengthAdjust="spacingAndGlyphs">M67</tspan></text>
<polygon points="669.8,322.2 681.6,322.2 710.2,326.8 729.3,326.8 730.8,330.4 731.9,330.9 733.5,331.65 734.1,331.8 783,334.6 783,338 734.1,340.8 733.5,340.95 731.9,341.7 730.8,342.2 729.3,345.8 710.2,345.8 681.6,350.4 669.8,350.4" fill="#86ace1" stroke="#0b1238" stroke-width="1.35" stroke-linejoin="miter"/>
<line x1="681.5" y1="322.2" x2="681.5" y2="350.4" stroke="#0b1238" stroke-width="1.0"/>
<line x1="710.5" y1="326.8" x2="710.5" y2="345.8" stroke="#0b1238" stroke-width="1.0"/>
<line x1="733.5" y1="331.8" x2="733.5" y2="340.8" stroke="#0b1238" stroke-width="1.0"/>
<rect x="783.6" y="334.6" width="9.4" height="3.4" rx="1.3" fill="#332d2c"/>
<polygon points="605.2,327 654.1,320 654.1,352.6 605.2,345.6" fill="#86ace1" stroke="#0b1238" stroke-width="1.35" stroke-linejoin="miter"/>
<path d="M653.5,314.9 Q653.5,313.6 654.8,313.6 L661.09,313.6 L663.03,317.1 L665.43,317.1 L667.38,313.6 L670.7,313.6 Q672,313.6 672,314.9 L672,357.7 Q672,359 670.7,359 L667.38,359 L665.43,355.5 L663.03,355.5 L661.09,359 L654.8,359 Q653.5,359 653.5,357.7 Z" fill="#86ace1" stroke="#0b1238" stroke-width="1.35" stroke-linejoin="round"/>
<line x1="661.5" y1="313.6" x2="661.5" y2="359" stroke="#0b1238" stroke-width="1.0"/>
<line x1="663.5" y1="317.1" x2="663.5" y2="355.5" stroke="#0b1238" stroke-width="1.0"/>
<line x1="665.5" y1="317.1" x2="665.5" y2="355.5" stroke="#2f4a90" stroke-width="1.0"/>
<line x1="667.5" y1="313.6" x2="667.5" y2="359" stroke="#0b1238" stroke-width="1.0"/>
<text x="612.4" y="340.2" font-family='"Liberation Sans", sans-serif' fill="#1a2150" font-size="8.8" textLength="8.2" lengthAdjust="spacingAndGlyphs">N</text>
<text x="620.5" y="340.2" font-family='"Liberation Sans", sans-serif' fill="#1a2150" font-size="8.4" textLength="7.4" lengthAdjust="spacingAndGlyphs">o.</text>
<text x="627.2" y="340.5" font-family='"Liberation Sans", sans-serif' font-size="11.6" font-weight="700" fill="#1a2150" textLength="8.4" lengthAdjust="spacingAndGlyphs">6</text>
<line x1="652.5" y1="259.2" x2="652.5" y2="309.1" stroke="#231815" stroke-width="1.0"/>
<line x1="783.5" y1="259.2" x2="783.5" y2="330.8" stroke="#231815" stroke-width="1.0"/>
<line x1="652.6" y1="261.5" x2="783" y2="261.5" stroke="#231815" stroke-width="1.0"/>
<polygon points="652.6,261.5 656.6,260.2 656.6,262.8" fill="#231815"/>
<polygon points="783,261.5 779,260.2 779,262.8" fill="#231815"/>
<text x="708.2" y="258.95" font-family='"Liberation Sans", sans-serif' font-size="11.94" font-weight="400" fill="#231815" textLength="22.6" lengthAdjust="spacingAndGlyphs">180</text>
<line x1="671.5" y1="276.3" x2="671.5" y2="311.7" stroke="#231815" stroke-width="1.0"/>
<line x1="710.5" y1="276.3" x2="710.5" y2="325.9" stroke="#231815" stroke-width="1.0"/>
<line x1="671" y1="278.5" x2="783" y2="278.5" stroke="#231815" stroke-width="1.0"/>
<polygon points="671,278.5 675,277.2 675,279.8" fill="#231815"/>
<polygon points="710.2,278.5 706.2,277.2 706.2,279.8" fill="#231815"/>
<polygon points="710.2,278.5 714.2,277.2 714.2,279.8" fill="#231815"/>
<polygon points="783,278.5 779,277.2 779,279.8" fill="#231815"/>
<line x1="734.5" y1="294" x2="734.5" y2="326.7" stroke="#231815" stroke-width="1.0"/>
<line x1="710.2" y1="296.5" x2="783" y2="296.5" stroke="#231815" stroke-width="1.0"/>
<polygon points="710.2,296.5 714.2,295.2 714.2,297.8" fill="#231815"/>
<polygon points="734.1,296.5 730.1,295.2 730.1,297.8" fill="#231815"/>
<polygon points="734.1,296.5 738.1,295.2 738.1,297.8" fill="#231815"/>
<polygon points="783,296.5 779,295.2 779,297.8" fill="#231815"/>
<text x="714.4" y="293.65" font-family='"Liberation Sans", sans-serif' font-size="12.22" font-weight="400" fill="#231815" textLength="16.4" lengthAdjust="spacingAndGlyphs">33</text>
<text x="751" y="293.65" font-family='"Liberation Sans", sans-serif' font-size="12.22" font-weight="400" fill="#231815" textLength="15.6" lengthAdjust="spacingAndGlyphs">67</text>
<text x="683.7" y="276.55" font-family='"Liberation Sans", sans-serif' font-size="11.8" font-weight="400" fill="#231815" textLength="16.9" lengthAdjust="spacingAndGlyphs">53</text>
<text x="737.1" y="276.55" font-family='"Liberation Sans", sans-serif' font-size="11.8" font-weight="400" fill="#231815" textLength="22.5" lengthAdjust="spacingAndGlyphs">100</text>
<text transform="translate(713.8,311) rotate(-11)" font-family='"Liberation Sans", sans-serif' font-size="11.31" fill="#231815" textLength="18.9" lengthAdjust="spacingAndGlyphs">20<tspan font-size="9.05" dy="-1.2">°</tspan></text>
<line x1="728.1" y1="323.7" x2="723.9" y2="311.7" stroke="#231815" stroke-width="1.0"/>
<path d="M724.5,312.9 Q729.7,311.1 734.1,311.6" fill="none" stroke="#231815" stroke-width="0.85"/>
<polygon points="724.1,313 727.1,311.4 727.3,313.3" fill="#231815"/>
<polygon points="734.1,311.6 730.9,310.6 731,312.6" fill="#231815"/>
<text x="756.8" y="321.85" font-family='"Liberation Sans", sans-serif' font-size="13.06" font-weight="400" fill="#231815" textLength="11.8" lengthAdjust="spacingAndGlyphs">3°</text>
<line x1="754.8" y1="324.5" x2="765.4" y2="324.5" stroke="#231815" stroke-width="1.0"/>
<line x1="754.8" y1="324.2" x2="751" y2="329.8" stroke="#231815" stroke-width="1.0"/>
<text x="686.2" y="310.15" font-family='"Liberation Sans", sans-serif' font-size="13.2" font-weight="400" fill="#231815" textLength="18.8" lengthAdjust="spacingAndGlyphs">10°</text>
<line x1="691.9" y1="314.5" x2="703" y2="314.5" stroke="#231815" stroke-width="1.0"/>
<line x1="691.9" y1="314.2" x2="688" y2="321.2" stroke="#231815" stroke-width="1.0"/>
<text x="738.5" y="355.85" font-family='"Liberation Sans", sans-serif' font-size="12.08" fill="#231815"><tspan font-style="italic" font-size="10.39" textLength="8" lengthAdjust="spacingAndGlyphs" stroke="#231815" stroke-width="0.15">ϕ</tspan><tspan dx="1.3" textLength="15.1" lengthAdjust="spacingAndGlyphs">13</tspan></text>
<line x1="734.1" y1="358.5" x2="764" y2="358.5" stroke="#231815" stroke-width="1.0"/>
<line x1="734.5" y1="358.2" x2="734.5" y2="345" stroke="#231815" stroke-width="1.0"/>
<polygon points="734.5,344 733.2,348 735.8,348" fill="#231815"/>
<text x="720.9" y="370.95" font-family='"Liberation Sans", sans-serif' font-size="12.78" fill="#231815"><tspan font-style="italic" font-size="10.99" textLength="8" lengthAdjust="spacingAndGlyphs" stroke="#231815" stroke-width="0.15">ϕ</tspan><tspan dx="1.3" textLength="15.6" lengthAdjust="spacingAndGlyphs">26</tspan></text>
<line x1="718" y1="373.5" x2="746.5" y2="373.5" stroke="#231815" stroke-width="1.0"/>
<line x1="718.5" y1="373.3" x2="718.5" y2="350.4" stroke="#231815" stroke-width="1.0"/>
<polygon points="718.5,349.4 717.2,353.4 719.8,353.4" fill="#231815"/>
<text x="680" y="370.95" font-family='"Liberation Sans", sans-serif' font-size="12.78" fill="#231815"><tspan font-style="italic" font-size="10.99" textLength="8" lengthAdjust="spacingAndGlyphs" stroke="#231815" stroke-width="0.15">ϕ</tspan><tspan dx="1.3" textLength="15.9" lengthAdjust="spacingAndGlyphs">40</tspan></text>
<line x1="677.5" y1="373.5" x2="705.7" y2="373.5" stroke="#231815" stroke-width="1.0"/>
<line x1="677.5" y1="373.3" x2="677.5" y2="353" stroke="#231815" stroke-width="1.0"/>
<polygon points="677.5,352 676.2,356 678.8,356" fill="#231815"/>
<text x="798.1" y="310.15" font-family='"Liberation Sans", sans-serif' font-size="13.2" fill="#231815"><tspan font-style="italic" font-size="11.35" textLength="8" lengthAdjust="spacingAndGlyphs" stroke="#231815" stroke-width="0.15">ϕ</tspan><tspan dx="1.3" textLength="7.1" lengthAdjust="spacingAndGlyphs">6</tspan></text>
<line x1="795" y1="313.5" x2="817" y2="313.5" stroke="#231815" stroke-width="1.0"/>
<line x1="795.5" y1="313.4" x2="795.5" y2="330.8" stroke="#231815" stroke-width="1.0"/>
<polygon points="795.5,331.8 794.2,327.8 796.8,327.8" fill="#231815"/>
<line x1="785.5" y1="333" x2="796.9" y2="333" stroke="#8e9193" stroke-width="1.3"/>
<text x="875.6" y="356.6" font-family='"Liberation Sans", sans-serif' font-size="11.8" font-weight="700" fill="#231815" textLength="20.4" lengthAdjust="spacingAndGlyphs">15.</text>
<text x="896.3" y="356.6" font-family='"Liberation Sans", sans-serif' font-size="7.6" font-weight="700" fill="#231815" textLength="6.3" lengthAdjust="spacingAndGlyphs">8</text>
<polygon points="883.2,359.3 893.6,359.3 893.6,363.4 896.8,363.4 888.4,371.8 880,363.4 883.2,363.4" fill="#e2001a"/>
</g>
<g id="p7">
<rect x="2.5" y="392.5" width="274" height="159.8" fill="#eceeed" stroke="#231815" stroke-width="1"/>
<text y="413" font-family='"Liberation Sans", sans-serif' font-size="14" font-weight="700" fill="#231815"><tspan x="12.1" textLength="43.6" lengthAdjust="spacingAndGlyphs">BT40</tspan><tspan x="56.4" textLength="11.8" lengthAdjust="spacingAndGlyphs">–</tspan><tspan x="69" textLength="55.3" lengthAdjust="spacingAndGlyphs">SLSA3</tspan><tspan x="125.4" textLength="11" lengthAdjust="spacingAndGlyphs">–</tspan><tspan x="138.1" textLength="7.8" lengthAdjust="spacingAndGlyphs">1</tspan><tspan x="147.7" textLength="22.2" lengthAdjust="spacingAndGlyphs">50</tspan><tspan x="171.2" textLength="10.8" lengthAdjust="spacingAndGlyphs">–</tspan><tspan x="183.9" textLength="35.6" lengthAdjust="spacingAndGlyphs">M97</tspan></text>
<polygon points="82.8,501.5 99.1,501.5 100.6,505.1 101.7,504.3 102.7,505.05 103.3,505.2 173.6,509.3 173.6,512.7 103.3,516.8 102.7,516.95 101.7,517.7 100.6,516.9 99.1,520.5 82.8,520.5" fill="#86ace1" stroke="#0b1238" stroke-width="1.35" stroke-linejoin="miter"/>
<line x1="103.5" y1="505.2" x2="103.5" y2="516.8" stroke="#0b1238" stroke-width="1.0"/>
<rect x="174.2" y="509.3" width="9.4" height="3.4" rx="1.3" fill="#332d2c"/>
<polygon points="17.4,501.7 66.3,494.7 66.3,527.3 17.4,520.3" fill="#86ace1" stroke="#0b1238" stroke-width="1.35" stroke-linejoin="miter"/>
<path d="M65.7,489.6 Q65.7,488.3 67,488.3 L73.49,488.3 L75.48,491.8 L77.95,491.8 L79.95,488.3 L83.4,488.3 Q84.7,488.3 84.7,489.6 L84.7,532.4 Q84.7,533.7 83.4,533.7 L79.95,533.7 L77.95,530.2 L75.48,530.2 L73.49,533.7 L67,533.7 Q65.7,533.7 65.7,532.4 Z" fill="#86ace1" stroke="#0b1238" stroke-width="1.35" stroke-linejoin="round"/>
<line x1="73.5" y1="488.3" x2="73.5" y2="533.7" stroke="#0b1238" stroke-width="1.0"/>
<line x1="75.5" y1="491.8" x2="75.5" y2="530.2" stroke="#0b1238" stroke-width="1.0"/>
<line x1="77.5" y1="491.8" x2="77.5" y2="530.2" stroke="#2f4a90" stroke-width="1.0"/>
<line x1="79.5" y1="488.3" x2="79.5" y2="533.7" stroke="#0b1238" stroke-width="1.0"/>
<text x="24.6" y="514.9" font-family='"Liberation Sans", sans-serif' fill="#1a2150" font-size="8.8" textLength="8.2" lengthAdjust="spacingAndGlyphs">N</text>
<text x="32.7" y="514.9" font-family='"Liberation Sans", sans-serif' fill="#1a2150" font-size="8.4" textLength="7.4" lengthAdjust="spacingAndGlyphs">o.</text>
<text x="39.4" y="515.2" font-family='"Liberation Sans", sans-serif' font-size="11.6" font-weight="700" fill="#1a2150" textLength="8.4" lengthAdjust="spacingAndGlyphs">7</text>
<line x1="64.5" y1="448.3" x2="64.5" y2="483.8" stroke="#231815" stroke-width="1.0"/>
<line x1="173.5" y1="448.3" x2="173.5" y2="505.5" stroke="#231815" stroke-width="1.0"/>
<line x1="64.8" y1="450.5" x2="173.6" y2="450.5" stroke="#231815" stroke-width="1.0"/>
<polygon points="64.8,450.5 68.8,449.2 68.8,451.8" fill="#231815"/>
<polygon points="173.6,450.5 169.6,449.2 169.6,451.8" fill="#231815"/>
<text x="108.9" y="447.95" font-family='"Liberation Sans", sans-serif' font-size="12.08" font-weight="400" fill="#231815" textLength="22.9" lengthAdjust="spacingAndGlyphs">150</text>
<line x1="84.5" y1="465.7" x2="84.5" y2="486.4" stroke="#231815" stroke-width="1.0"/>
<line x1="103.5" y1="465.7" x2="103.5" y2="500.5" stroke="#231815" stroke-width="1.0"/>
<line x1="84" y1="467.5" x2="173.6" y2="467.5" stroke="#231815" stroke-width="1.0"/>
<polygon points="84,467.5 88,466.2 88,468.8" fill="#231815"/>
<polygon points="103.3,467.5 99.3,466.2 99.3,468.8" fill="#231815"/>
<polygon points="103.3,467.5 107.3,466.2 107.3,468.8" fill="#231815"/>
<polygon points="173.6,467.5 169.6,466.2 169.6,468.8" fill="#231815"/>
<text x="86" y="465.15" font-family='"Liberation Sans", sans-serif' font-size="11.52" font-weight="400" fill="#231815" textLength="15.6" lengthAdjust="spacingAndGlyphs">26</text>
<text x="130.6" y="465.95" font-family='"Liberation Sans", sans-serif' font-size="11.8" font-weight="400" fill="#231815" textLength="15.7" lengthAdjust="spacingAndGlyphs">97</text>
<text transform="translate(87,484.2) rotate(-11)" font-family='"Liberation Sans", sans-serif' font-size="12.01" fill="#231815" textLength="15.5" lengthAdjust="spacingAndGlyphs">20<tspan font-size="9.61" dy="-1.2">°</tspan></text>
<line x1="97.9" y1="498.4" x2="93.7" y2="486.4" stroke="#231815" stroke-width="1.0"/>
<path d="M94.3,487.6 Q99.2,485.8 103.3,486.3" fill="none" stroke="#231815" stroke-width="0.85"/>
<polygon points="93.9,487.7 96.9,486.1 97.1,488" fill="#231815"/>
<polygon points="103.3,486.3 100.1,485.3 100.2,487.3" fill="#231815"/>
<text x="131.6" y="497.15" font-family='"Liberation Sans", sans-serif' font-size="12.36" font-weight="400" fill="#231815" textLength="12" lengthAdjust="spacingAndGlyphs">3°</text>
<line x1="130.2" y1="499.5" x2="140.5" y2="499.5" stroke="#231815" stroke-width="1.0"/>
<line x1="130.2" y1="499.6" x2="126" y2="505" stroke="#231815" stroke-width="1.0"/>
<text x="105.9" y="530.55" font-family='"Liberation Sans", sans-serif' font-size="12.78" fill="#231815"><tspan font-style="italic" font-size="10.99" textLength="8" lengthAdjust="spacingAndGlyphs" stroke="#231815" stroke-width="0.15">ϕ</tspan><tspan dx="1.3" textLength="26.4" lengthAdjust="spacingAndGlyphs">16.2</tspan></text>
<line x1="103.3" y1="533.5" x2="144.7" y2="533.5" stroke="#231815" stroke-width="1.0"/>
<line x1="103.5" y1="533" x2="103.5" y2="519.8" stroke="#231815" stroke-width="1.0"/>
<polygon points="103.5,518.8 102.2,522.8 104.8,522.8" fill="#231815"/>
<text x="89.2" y="544.35" font-family='"Liberation Sans", sans-serif' font-size="11.8" fill="#231815"><tspan font-style="italic" font-size="10.15" textLength="8" lengthAdjust="spacingAndGlyphs" stroke="#231815" stroke-width="0.15">ϕ</tspan><tspan dx="1.3" textLength="16" lengthAdjust="spacingAndGlyphs">26</tspan></text>
<line x1="87" y1="547.5" x2="115.5" y2="547.5" stroke="#231815" stroke-width="1.0"/>
<line x1="87.5" y1="547.4" x2="87.5" y2="525" stroke="#231815" stroke-width="1.0"/>
<polygon points="87.5,524 86.2,528 88.8,528" fill="#231815"/>
<text x="189.7" y="484.85" font-family='"Liberation Sans", sans-serif' font-size="13.06" fill="#231815"><tspan font-style="italic" font-size="11.23" textLength="8" lengthAdjust="spacingAndGlyphs" stroke="#231815" stroke-width="0.15">ϕ</tspan><tspan dx="1.3" textLength="7.7" lengthAdjust="spacingAndGlyphs">6</tspan></text>
<line x1="186.5" y1="488.5" x2="208.8" y2="488.5" stroke="#231815" stroke-width="1.0"/>
<line x1="186.5" y1="488.4" x2="186.5" y2="505.4" stroke="#231815" stroke-width="1.0"/>
<polygon points="186.5,506.4 185.2,502.4 187.8,502.4" fill="#231815"/>
<line x1="177.8" y1="507.8" x2="190.2" y2="507.8" stroke="#8e9193" stroke-width="1.3"/>
<text x="240.5" y="530.4" font-family='"Liberation Sans", sans-serif' font-size="11.8" font-weight="700" fill="#231815" textLength="21" lengthAdjust="spacingAndGlyphs">20.</text>
<text x="261.8" y="530.4" font-family='"Liberation Sans", sans-serif' font-size="7.6" font-weight="700" fill="#231815" textLength="6.7" lengthAdjust="spacingAndGlyphs">7</text>
<polygon points="249.4,533.3 259.8,533.3 259.8,537.4 263,537.4 254.6,545.8 246.2,537.4 249.4,537.4" fill="#e2001a"/>
</g>
<g id="p8">
<rect x="283.5" y="392.5" width="299" height="159.8" fill="#eceeed" stroke="#231815" stroke-width="1"/>
<text y="413" font-family='"Liberation Sans", sans-serif' font-size="14" font-weight="700" fill="#231815"><tspan x="293.1" textLength="43.6" lengthAdjust="spacingAndGlyphs">BT40</tspan><tspan x="337.4" textLength="11.8" lengthAdjust="spacingAndGlyphs">–</tspan><tspan x="350" textLength="55.3" lengthAdjust="spacingAndGlyphs">SLSA3</tspan><tspan x="406.4" textLength="11" lengthAdjust="spacingAndGlyphs">–</tspan><tspan x="419.1" textLength="7.8" lengthAdjust="spacingAndGlyphs">1</tspan><tspan x="428.7" textLength="22.2" lengthAdjust="spacingAndGlyphs">80</tspan><tspan x="452.2" textLength="10.8" lengthAdjust="spacingAndGlyphs">–</tspan><tspan x="464.9" textLength="35.6" lengthAdjust="spacingAndGlyphs">M97</tspan></text>
<polygon points="364.3,501.1 402.5,501.1 404,504.7 405.1,503.9 405.8,504.65 406.4,504.8 477.3,508.9 477.3,512.3 406.4,516.4 405.8,516.55 405.1,517.3 404,516.5 402.5,520.1 364.3,520.1" fill="#86ace1" stroke="#0b1238" stroke-width="1.35" stroke-linejoin="miter"/>
<line x1="406.5" y1="504.8" x2="406.5" y2="516.4" stroke="#0b1238" stroke-width="1.0"/>
<rect x="477.9" y="508.9" width="9.4" height="3.4" rx="1.3" fill="#332d2c"/>
<polygon points="298.9,501.3 347.8,494.3 347.8,526.9 298.9,519.9" fill="#86ace1" stroke="#0b1238" stroke-width="1.35" stroke-linejoin="miter"/>
<path d="M347.2,489.2 Q347.2,487.9 348.5,487.9 L354.99,487.9 L356.99,491.4 L359.46,491.4 L361.45,487.9 L364.9,487.9 Q366.2,487.9 366.2,489.2 L366.2,532 Q366.2,533.3 364.9,533.3 L361.45,533.3 L359.46,529.8 L356.99,529.8 L354.99,533.3 L348.5,533.3 Q347.2,533.3 347.2,532 Z" fill="#86ace1" stroke="#0b1238" stroke-width="1.35" stroke-linejoin="round"/>
<line x1="354.5" y1="487.9" x2="354.5" y2="533.3" stroke="#0b1238" stroke-width="1.0"/>
<line x1="356.5" y1="491.4" x2="356.5" y2="529.8" stroke="#0b1238" stroke-width="1.0"/>
<line x1="359.5" y1="491.4" x2="359.5" y2="529.8" stroke="#2f4a90" stroke-width="1.0"/>
<line x1="361.5" y1="487.9" x2="361.5" y2="533.3" stroke="#0b1238" stroke-width="1.0"/>
<text x="306.1" y="514.5" font-family='"Liberation Sans", sans-serif' fill="#1a2150" font-size="8.8" textLength="8.2" lengthAdjust="spacingAndGlyphs">N</text>
<text x="314.2" y="514.5" font-family='"Liberation Sans", sans-serif' fill="#1a2150" font-size="8.4" textLength="7.4" lengthAdjust="spacingAndGlyphs">o.</text>
<text x="320.9" y="514.8" font-family='"Liberation Sans", sans-serif' font-size="11.6" font-weight="700" fill="#1a2150" textLength="8.4" lengthAdjust="spacingAndGlyphs">8</text>
<line x1="346.5" y1="448.3" x2="346.5" y2="483.4" stroke="#231815" stroke-width="1.0"/>
<line x1="477.5" y1="448.3" x2="477.5" y2="505.1" stroke="#231815" stroke-width="1.0"/>
<line x1="346.3" y1="450.5" x2="477.3" y2="450.5" stroke="#231815" stroke-width="1.0"/>
<polygon points="346.3,450.5 350.3,449.2 350.3,451.8" fill="#231815"/>
<polygon points="477.3,450.5 473.3,449.2 473.3,451.8" fill="#231815"/>
<text x="402.8" y="447.75" font-family='"Liberation Sans", sans-serif' font-size="11.8" font-weight="400" fill="#231815" textLength="24" lengthAdjust="spacingAndGlyphs">180</text>
<line x1="365.5" y1="465.5" x2="365.5" y2="486" stroke="#231815" stroke-width="1.0"/>
<line x1="406.5" y1="465.5" x2="406.5" y2="500.1" stroke="#231815" stroke-width="1.0"/>
<line x1="365.5" y1="467.5" x2="477.3" y2="467.5" stroke="#231815" stroke-width="1.0"/>
<polygon points="365.5,467.5 369.5,466.2 369.5,468.8" fill="#231815"/>
<polygon points="406.4,467.5 402.4,466.2 402.4,468.8" fill="#231815"/>
<polygon points="406.4,467.5 410.4,466.2 410.4,468.8" fill="#231815"/>
<polygon points="477.3,467.5 473.3,466.2 473.3,468.8" fill="#231815"/>
<text x="379.4" y="465.15" font-family='"Liberation Sans", sans-serif' font-size="11.52" font-weight="400" fill="#231815" textLength="16.7" lengthAdjust="spacingAndGlyphs">56</text>
<text x="435.3" y="465.75" font-family='"Liberation Sans", sans-serif' font-size="11.8" font-weight="400" fill="#231815" textLength="16.3" lengthAdjust="spacingAndGlyphs">97</text>
<text transform="translate(388.5,484.2) rotate(-11)" font-family='"Liberation Sans", sans-serif' font-size="12.57" fill="#231815" textLength="17.9" lengthAdjust="spacingAndGlyphs">20<tspan font-size="10.06" dy="-1.2">°</tspan></text>
<line x1="401.3" y1="498" x2="397.1" y2="486" stroke="#231815" stroke-width="1.0"/>
<path d="M397.7,487.2 Q402.45,485.4 406.4,485.9" fill="none" stroke="#231815" stroke-width="0.85"/>
<polygon points="397.3,487.3 400.3,485.7 400.5,487.6" fill="#231815"/>
<polygon points="406.4,485.9 403.2,484.9 403.3,486.9" fill="#231815"/>
<text x="433.3" y="497.15" font-family='"Liberation Sans", sans-serif' font-size="12.36" font-weight="400" fill="#231815" textLength="12.1" lengthAdjust="spacingAndGlyphs">3°</text>
<line x1="432.4" y1="499.5" x2="442.8" y2="499.5" stroke="#231815" stroke-width="1.0"/>
<line x1="432.4" y1="499.1" x2="427.7" y2="504.3" stroke="#231815" stroke-width="1.0"/>
<text x="410.2" y="530.35" font-family='"Liberation Sans", sans-serif' font-size="13.06" fill="#231815"><tspan font-style="italic" font-size="11.23" textLength="8" lengthAdjust="spacingAndGlyphs" stroke="#231815" stroke-width="0.15">ϕ</tspan><tspan dx="1.3" textLength="26.8" lengthAdjust="spacingAndGlyphs">16.2</tspan></text>
<line x1="406.4" y1="532.5" x2="447.9" y2="532.5" stroke="#231815" stroke-width="1.0"/>
<line x1="406.5" y1="532.9" x2="406.5" y2="520.4" stroke="#231815" stroke-width="1.0"/>
<polygon points="406.5,519.4 405.2,523.4 407.8,523.4" fill="#231815"/>
<text x="378.1" y="543.75" font-family='"Liberation Sans", sans-serif' font-size="11.52" fill="#231815"><tspan font-style="italic" font-size="9.91" textLength="8" lengthAdjust="spacingAndGlyphs" stroke="#231815" stroke-width="0.15">ϕ</tspan><tspan dx="1.3" textLength="16" lengthAdjust="spacingAndGlyphs">26</tspan></text>
<line x1="374.8" y1="546.5" x2="404" y2="546.5" stroke="#231815" stroke-width="1.0"/>
<line x1="374.5" y1="546.7" x2="374.5" y2="525" stroke="#231815" stroke-width="1.0"/>
<polygon points="374.5,524 373.2,528 375.8,528" fill="#231815"/>
<text x="492.5" y="484.35" font-family='"Liberation Sans", sans-serif' font-size="12.36" fill="#231815"><tspan font-style="italic" font-size="10.63" textLength="8" lengthAdjust="spacingAndGlyphs" stroke="#231815" stroke-width="0.15">ϕ</tspan><tspan dx="1.3" textLength="8.2" lengthAdjust="spacingAndGlyphs">6</tspan></text>
<line x1="489.7" y1="488.5" x2="512" y2="488.5" stroke="#231815" stroke-width="1.0"/>
<line x1="489.5" y1="488.4" x2="489.5" y2="505.4" stroke="#231815" stroke-width="1.0"/>
<polygon points="489.5,506.4 488.2,502.4 490.8,502.4" fill="#231815"/>
<line x1="480.6" y1="507.8" x2="493" y2="507.8" stroke="#8e9193" stroke-width="1.3"/>
<text x="548.4" y="530.4" font-family='"Liberation Sans", sans-serif' font-size="11.8" font-weight="700" fill="#231815" textLength="22.4" lengthAdjust="spacingAndGlyphs">22.</text>
<text x="571.1" y="530.4" font-family='"Liberation Sans", sans-serif' font-size="7.6" font-weight="700" fill="#231815" textLength="6.3" lengthAdjust="spacingAndGlyphs">2</text>
<polygon points="558,533.3 568.4,533.3 568.4,537.4 571.6,537.4 563.2,545.8 554.8,537.4 558,537.4" fill="#e2001a"/>
</g>
<g id="p9">
<rect x="589.5" y="392.5" width="319" height="159.8" fill="#eceeed" stroke="#231815" stroke-width="1"/>
<text y="413" font-family='"Liberation Sans", sans-serif' font-size="14" font-weight="700" fill="#231815"><tspan x="599.9" textLength="43.6" lengthAdjust="spacingAndGlyphs">BT40</tspan><tspan x="644.2" textLength="11.8" lengthAdjust="spacingAndGlyphs">–</tspan><tspan x="656.8" textLength="55.3" lengthAdjust="spacingAndGlyphs">SLSA3</tspan><tspan x="713.2" textLength="11" lengthAdjust="spacingAndGlyphs">–</tspan><tspan x="725.5" textLength="11.3" lengthAdjust="spacingAndGlyphs">2</tspan><tspan x="737.4" textLength="7.5" lengthAdjust="spacingAndGlyphs">1</tspan><tspan x="746.1" textLength="11.2" lengthAdjust="spacingAndGlyphs">0</tspan><tspan x="758.6" textLength="10.8" lengthAdjust="spacingAndGlyphs">–</tspan><tspan x="771.3" textLength="35.6" lengthAdjust="spacingAndGlyphs">M97</tspan></text>
<polygon points="669.8,496.5 681.6,496.5 710.2,501.1 729.3,501.1 730.8,504.7 731.9,503.9 733.5,504.65 734.1,504.8 804.5,508.9 804.5,512.3 734.1,516.4 733.5,516.55 731.9,517.3 730.8,516.5 729.3,520.1 710.2,520.1 681.6,524.7 669.8,524.7" fill="#86ace1" stroke="#0b1238" stroke-width="1.35" stroke-linejoin="miter"/>
<line x1="681.5" y1="496.5" x2="681.5" y2="524.7" stroke="#0b1238" stroke-width="1.0"/>
<line x1="710.5" y1="501.1" x2="710.5" y2="520.1" stroke="#0b1238" stroke-width="1.0"/>
<line x1="733.5" y1="504.8" x2="733.5" y2="516.4" stroke="#0b1238" stroke-width="1.0"/>
<rect x="805.1" y="508.9" width="9.4" height="3.4" rx="1.3" fill="#332d2c"/>
<polygon points="605.2,501.3 654.1,494.3 654.1,526.9 605.2,519.9" fill="#86ace1" stroke="#0b1238" stroke-width="1.35" stroke-linejoin="miter"/>
<path d="M653.5,489.2 Q653.5,487.9 654.8,487.9 L661.09,487.9 L663.03,491.4 L665.43,491.4 L667.38,487.9 L670.7,487.9 Q672,487.9 672,489.2 L672,532 Q672,533.3 670.7,533.3 L667.38,533.3 L665.43,529.8 L663.03,529.8 L661.09,533.3 L654.8,533.3 Q653.5,533.3 653.5,532 Z" fill="#86ace1" stroke="#0b1238" stroke-width="1.35" stroke-linejoin="round"/>
<line x1="661.5" y1="487.9" x2="661.5" y2="533.3" stroke="#0b1238" stroke-width="1.0"/>
<line x1="663.5" y1="491.4" x2="663.5" y2="529.8" stroke="#0b1238" stroke-width="1.0"/>
<line x1="665.5" y1="491.4" x2="665.5" y2="529.8" stroke="#2f4a90" stroke-width="1.0"/>
<line x1="667.5" y1="487.9" x2="667.5" y2="533.3" stroke="#0b1238" stroke-width="1.0"/>
<text x="612.4" y="514.5" font-family='"Liberation Sans", sans-serif' fill="#1a2150" font-size="8.8" textLength="8.2" lengthAdjust="spacingAndGlyphs">N</text>
<text x="620.5" y="514.5" font-family='"Liberation Sans", sans-serif' fill="#1a2150" font-size="8.4" textLength="7.4" lengthAdjust="spacingAndGlyphs">o.</text>
<text x="627.2" y="514.8" font-family='"Liberation Sans", sans-serif' font-size="11.6" font-weight="700" fill="#1a2150" textLength="8.4" lengthAdjust="spacingAndGlyphs">9</text>
<line x1="652.5" y1="430.9" x2="652.5" y2="483.4" stroke="#231815" stroke-width="1.0"/>
<line x1="804.5" y1="430.9" x2="804.5" y2="505.1" stroke="#231815" stroke-width="1.0"/>
<line x1="652.6" y1="433.5" x2="804.5" y2="433.5" stroke="#231815" stroke-width="1.0"/>
<polygon points="652.6,433.5 656.6,432.2 656.6,434.8" fill="#231815"/>
<polygon points="804.5,433.5 800.5,432.2 800.5,434.8" fill="#231815"/>
<text x="720.8" y="430.75" font-family='"Liberation Sans", sans-serif' font-size="12.08" font-weight="400" fill="#231815" textLength="23.8" lengthAdjust="spacingAndGlyphs">210</text>
<line x1="671.5" y1="448.8" x2="671.5" y2="486" stroke="#231815" stroke-width="1.0"/>
<line x1="710.5" y1="448.8" x2="710.5" y2="500.2" stroke="#231815" stroke-width="1.0"/>
<line x1="671" y1="451.5" x2="804.5" y2="451.5" stroke="#231815" stroke-width="1.0"/>
<polygon points="671,451.5 675,450.2 675,452.8" fill="#231815"/>
<polygon points="710.2,451.5 706.2,450.2 706.2,452.8" fill="#231815"/>
<polygon points="710.2,451.5 714.2,450.2 714.2,452.8" fill="#231815"/>
<polygon points="804.5,451.5 800.5,450.2 800.5,452.8" fill="#231815"/>
<line x1="734.5" y1="466" x2="734.5" y2="501" stroke="#231815" stroke-width="1.0"/>
<line x1="710.2" y1="468.5" x2="804.5" y2="468.5" stroke="#231815" stroke-width="1.0"/>
<polygon points="710.2,468.5 714.2,467.2 714.2,469.8" fill="#231815"/>
<polygon points="734.1,468.5 730.1,467.2 730.1,469.8" fill="#231815"/>
<polygon points="734.1,468.5 738.1,467.2 738.1,469.8" fill="#231815"/>
<polygon points="804.5,468.5 800.5,467.2 800.5,469.8" fill="#231815"/>
<text x="714" y="465.45" font-family='"Liberation Sans", sans-serif' font-size="11.94" font-weight="400" fill="#231815" textLength="16.8" lengthAdjust="spacingAndGlyphs">33</text>
<text x="761.8" y="465.45" font-family='"Liberation Sans", sans-serif' font-size="11.94" font-weight="400" fill="#231815" textLength="15.6" lengthAdjust="spacingAndGlyphs">97</text>
<text x="683.7" y="448.65" font-family='"Liberation Sans", sans-serif' font-size="11.94" font-weight="400" fill="#231815" textLength="16.9" lengthAdjust="spacingAndGlyphs">53</text>
<text x="747.2" y="449.15" font-family='"Liberation Sans", sans-serif' font-size="12.08" font-weight="400" fill="#231815" textLength="22.6" lengthAdjust="spacingAndGlyphs">130</text>
<text transform="translate(715,485.5) rotate(-11)" font-family='"Liberation Sans", sans-serif' font-size="12.99" fill="#231815" textLength="18.2" lengthAdjust="spacingAndGlyphs">20<tspan font-size="10.39" dy="-1.2">°</tspan></text>
<line x1="728.1" y1="498" x2="723.9" y2="486" stroke="#231815" stroke-width="1.0"/>
<path d="M724.5,487.2 Q729.7,485.4 734.1,485.9" fill="none" stroke="#231815" stroke-width="0.85"/>
<polygon points="724.1,487.3 727.1,485.7 727.3,487.6" fill="#231815"/>
<polygon points="734.1,485.9 730.9,484.9 731,486.9" fill="#231815"/>
<text x="761.8" y="496.95" font-family='"Liberation Sans", sans-serif' font-size="12.78" font-weight="400" fill="#231815" textLength="11.8" lengthAdjust="spacingAndGlyphs">3°</text>
<line x1="760.4" y1="498.5" x2="771.7" y2="498.5" stroke="#231815" stroke-width="1.0"/>
<line x1="760.4" y1="498.8" x2="756.6" y2="504.4" stroke="#231815" stroke-width="1.0"/>
<text x="691.3" y="486.35" font-family='"Liberation Sans", sans-serif' font-size="13.06" font-weight="400" fill="#231815" textLength="18" lengthAdjust="spacingAndGlyphs">10°</text>
<line x1="695.6" y1="489.5" x2="707" y2="489.5" stroke="#231815" stroke-width="1.0"/>
<line x1="695.6" y1="489.2" x2="691.9" y2="496.8" stroke="#231815" stroke-width="1.0"/>
<text x="738.5" y="528.95" font-family='"Liberation Sans", sans-serif' font-size="12.78" fill="#231815"><tspan font-style="italic" font-size="10.99" textLength="8" lengthAdjust="spacingAndGlyphs" stroke="#231815" stroke-width="0.15">ϕ</tspan><tspan dx="1.3" textLength="26.4" lengthAdjust="spacingAndGlyphs">16.2</tspan></text>
<line x1="734.1" y1="532.5" x2="775.5" y2="532.5" stroke="#231815" stroke-width="1.0"/>
<line x1="734.5" y1="532" x2="734.5" y2="522" stroke="#231815" stroke-width="1.0"/>
<polygon points="734.5,521 733.2,525 735.8,525" fill="#231815"/>
<text x="720.9" y="543.55" font-family='"Liberation Sans", sans-serif' font-size="12.78" fill="#231815"><tspan font-style="italic" font-size="10.99" textLength="8" lengthAdjust="spacingAndGlyphs" stroke="#231815" stroke-width="0.15">ϕ</tspan><tspan dx="1.3" textLength="15.6" lengthAdjust="spacingAndGlyphs">26</tspan></text>
<line x1="717.6" y1="546.5" x2="746.6" y2="546.5" stroke="#231815" stroke-width="1.0"/>
<line x1="717.5" y1="546.6" x2="717.5" y2="523.7" stroke="#231815" stroke-width="1.0"/>
<polygon points="717.5,522.7 716.2,526.7 718.8,526.7" fill="#231815"/>
<text x="679.5" y="543.95" font-family='"Liberation Sans", sans-serif' font-size="13.34" fill="#231815"><tspan font-style="italic" font-size="11.47" textLength="8" lengthAdjust="spacingAndGlyphs" stroke="#231815" stroke-width="0.15">ϕ</tspan><tspan dx="1.3" textLength="16.4" lengthAdjust="spacingAndGlyphs">40</tspan></text>
<line x1="676.8" y1="547.5" x2="705.7" y2="547.5" stroke="#231815" stroke-width="1.0"/>
<line x1="676.5" y1="547" x2="676.5" y2="526.7" stroke="#231815" stroke-width="1.0"/>
<polygon points="676.5,525.7 675.2,529.7 677.8,529.7" fill="#231815"/>
<text x="819.1" y="484.35" font-family='"Liberation Sans", sans-serif' font-size="13.76" fill="#231815"><tspan font-style="italic" font-size="11.83" textLength="8" lengthAdjust="spacingAndGlyphs" stroke="#231815" stroke-width="0.15">ϕ</tspan><tspan dx="1.3" textLength="7.5" lengthAdjust="spacingAndGlyphs">6</tspan></text>
<line x1="816.3" y1="488.5" x2="838.9" y2="488.5" stroke="#231815" stroke-width="1.0"/>
<line x1="816.5" y1="488" x2="816.5" y2="505.1" stroke="#231815" stroke-width="1.0"/>
<polygon points="816.5,506.1 815.2,502.1 817.8,502.1" fill="#231815"/>
<line x1="807" y1="507.6" x2="820.3" y2="507.6" stroke="#8e9193" stroke-width="1.3"/>
<text x="873.3" y="530.6" font-family='"Liberation Sans", sans-serif' font-size="11.8" font-weight="700" fill="#231815" textLength="22.3" lengthAdjust="spacingAndGlyphs">22.</text>
<text x="895.9" y="530.6" font-family='"Liberation Sans", sans-serif' font-size="7.6" font-weight="700" fill="#231815" textLength="4.7" lengthAdjust="spacingAndGlyphs">1</text>
<polygon points="883.3,533.1 893.7,533.1 893.7,537.2 896.9,537.2 888.5,545.6 880.1,537.2 883.3,537.2" fill="#e2001a"/>
</g>
</svg></body></html>
